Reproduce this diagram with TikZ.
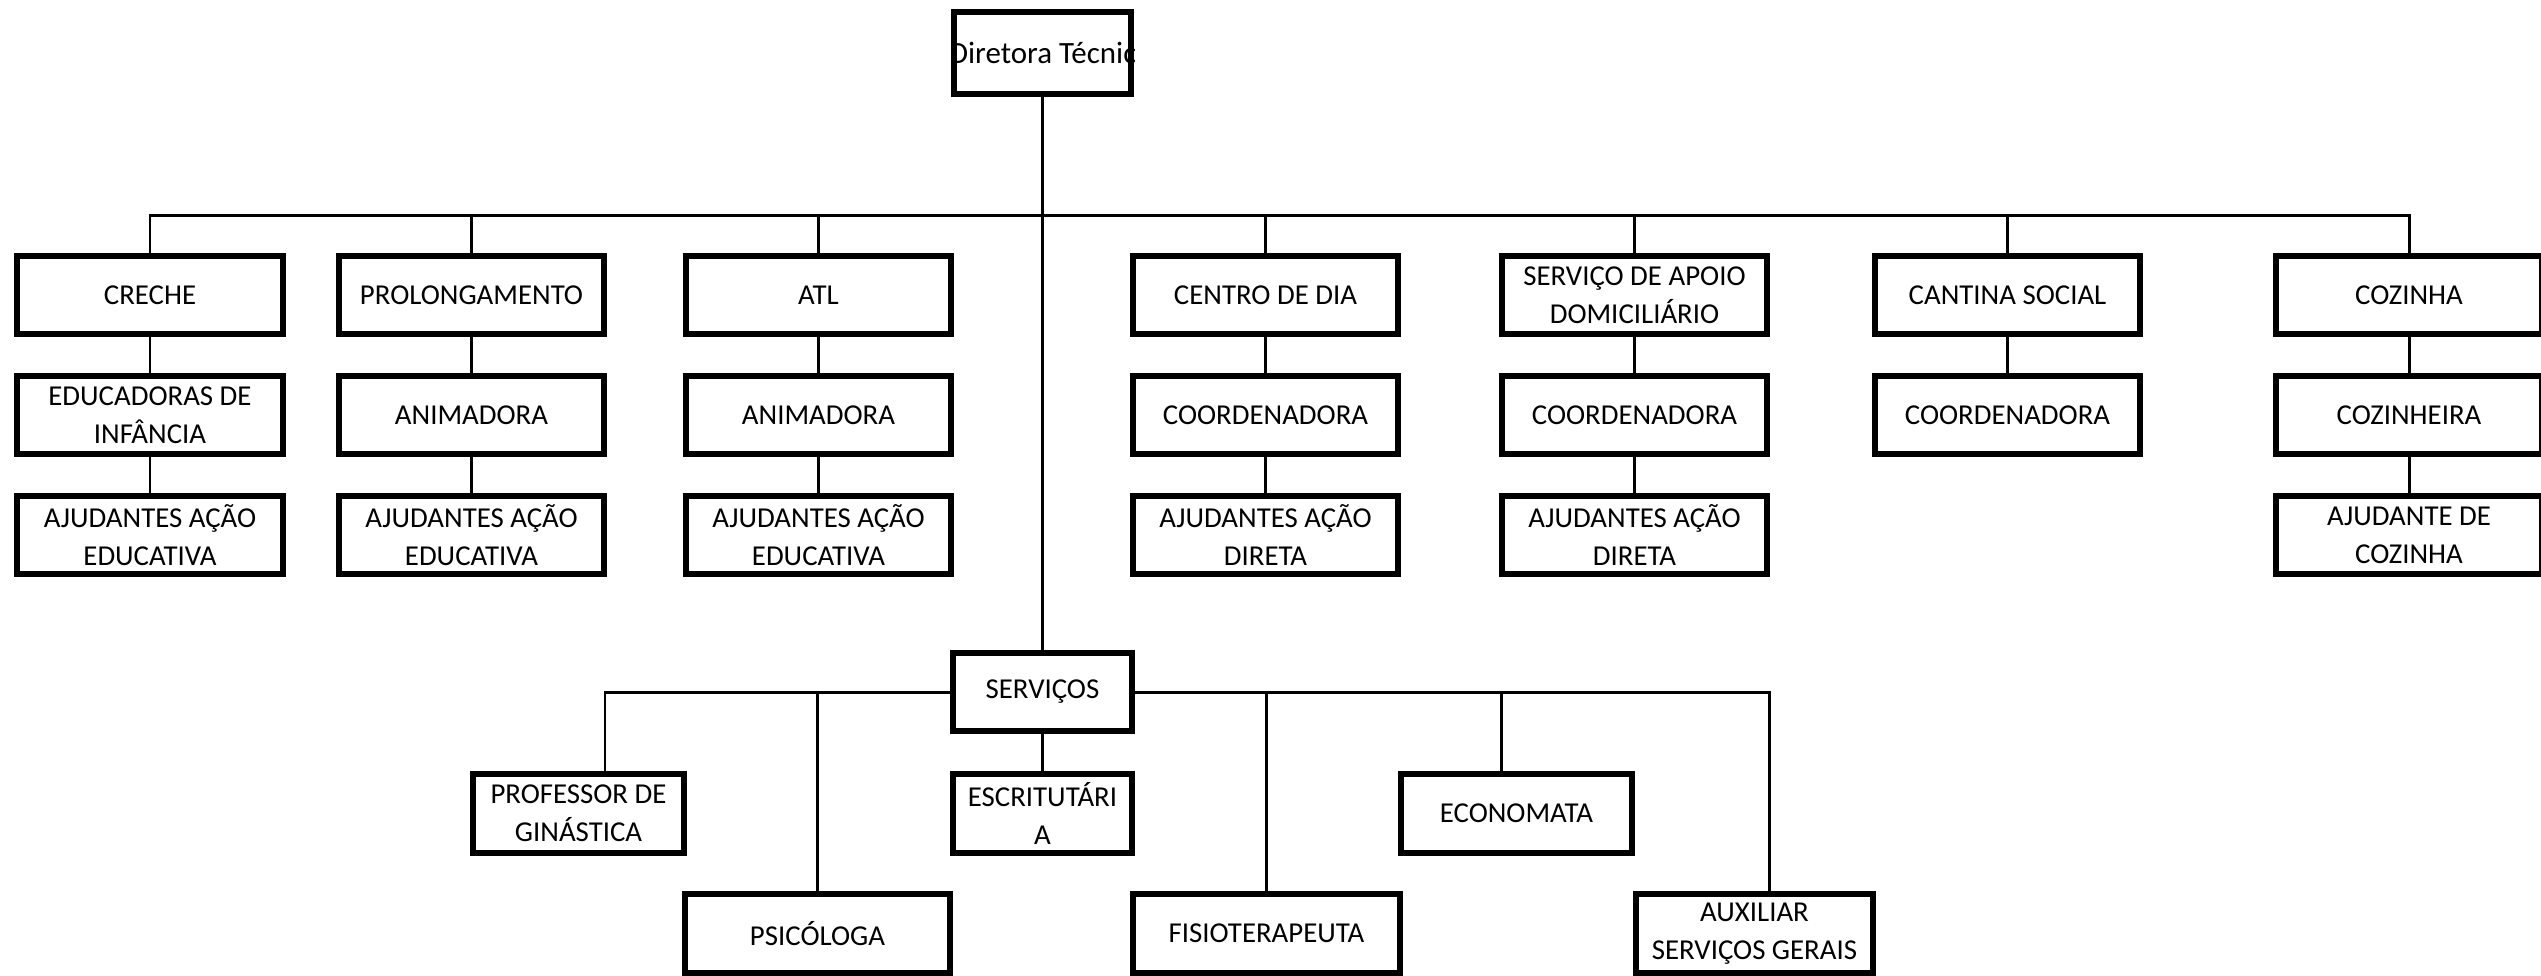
\documentclass[tikz,border=0pt]{standalone}
\usepackage{fontspec}
\setmainfont{Carlito}
\usetikzlibrary{calc}

\begin{document}
\begin{tikzpicture}[x=0.01cm, y=-0.01cm,
    box/.style={draw, line width=1.6pt, fill=white, inner sep=0pt, align=center,
      minimum width=2.654cm, minimum height=0.784cm, font=\fontsize{8.2}{10.8}\selectfont},
    link/.style={line width=0.85pt}]
    \useasboundingbox (0,0) rectangle (2541,975);

    \begin{scope}
      \clip (951,9) rectangle (1134,97);
      \node[font=\fontsize{8.8}{10.8}\selectfont] (diretoratxt) at (1050,53) {Diretora Técnica};
    \end{scope}
    \node[box, fill=none, minimum width=1.774cm, minimum height=0.824cm] (diretora) at (1042.5,53) {};

    \node[box] (creche) at (150,295) {CRECHE};
    \node[box] (creche2) at (150,415) {EDUCADORAS DE\\INFÂNCIA};
    \node[box] (creche3) at (150,535) {AJUDANTES AÇÃO\\EDUCATIVA};

    \node[box] (prolong) at (471.5,295) {PROLONGAMENTO};
    \node[box] (prolong2) at (471.5,415) {ANIMADORA};
    \node[box] (prolong3) at (471.5,535) {AJUDANTES AÇÃO\\EDUCATIVA};

    \node[box] (atl) at (818.5,295) {ATL};
    \node[box] (atl2) at (818.5,415) {ANIMADORA};
    \node[box] (atl3) at (818.5,535) {AJUDANTES AÇÃO\\EDUCATIVA};

    \node[box] (cdia) at (1265.5,295) {CENTRO DE DIA};
    \node[box] (cdia2) at (1265.5,415) {COORDENADORA};
    \node[box] (cdia3) at (1265.5,535) {AJUDANTES AÇÃO\\DIRETA};

    \node[box] (sad) at (1634.5,295) {SERVIÇO DE APOIO\\DOMICILIÁRIO};
    \node[box] (sad2) at (1634.5,415) {COORDENADORA};
    \node[box] (sad3) at (1634.5,535) {AJUDANTES AÇÃO\\DIRETA};

    \node[box] (cantina) at (2007.5,295) {CANTINA SOCIAL};
    \node[box] (cantina2) at (2007.5,415) {COORDENADORA};

    \node[box] (cozinha) at (2409,295) {COZINHA};
    \node[box] (cozinha2) at (2409,415) {COZINHEIRA};
    \node[box] (cozinha3) at (2409,535) {AJUDANTE DE\\COZINHA};

    \node[box, minimum width=1.794cm] (serv) at (1042.5,692) {SERVIÇOS};
    \node[box, minimum width=2.114cm] (prof) at (578.5,813.5) {PROFESSOR DE\\GINÁSTICA};
    \node[box, minimum width=1.794cm] (escr) at (1042.5,813.5) {ESCRITUTÁRI\\A};
    \node[box, minimum width=2.314cm] (econ) at (1516.5,813.5) {ECONOMATA};
    \node[box] (psico) at (817.5,933.5) {PSICÓLOGA};
    \node[box, minimum width=2.674cm] (fisio) at (1266.5,933.5) {FISIOTERAPEUTA};
    \node[box, minimum width=2.374cm] (aux) at (1754.5,933.5) {AUXILIAR\\SERVIÇOS GERAIS};

    \coordinate (bus) at (150,215);
    \coordinate (sL) at (605,692);
    \coordinate (sE) at (1501,692);
    \coordinate (sR) at (1769,692);

    \draw[link] (diretora.south) -- (serv.north);
    \draw[link] (creche.north) -- (creche.north |- bus) -- (cozinha.north |- bus) -- (cozinha.north);
    \foreach \n in {prolong,atl,cdia,sad,cantina} {
      \draw[link] (\n.north) -- (\n.north |- bus);
    }
    \foreach \n in {creche,prolong,atl,cdia,sad,cozinha} {
      \draw[link] (\n) -- (\n2) -- (\n3);
    }
    \draw[link] (cantina) -- (cantina2);

    \draw[link] (serv.west) -- (sL) -- (sL |- prof.north);
    \draw[link] (serv.east) -- (sR) -- (sR |- aux.north);
    \draw[link] (serv.south) -- (escr.north);
    \draw[link] (sE) -- (sE |- econ.north);
    \foreach \n in {psico,fisio} {
      \draw[link] (\n.north) -- (\n.north |- serv.west);
    }
  \end{tikzpicture}
\end{document}
